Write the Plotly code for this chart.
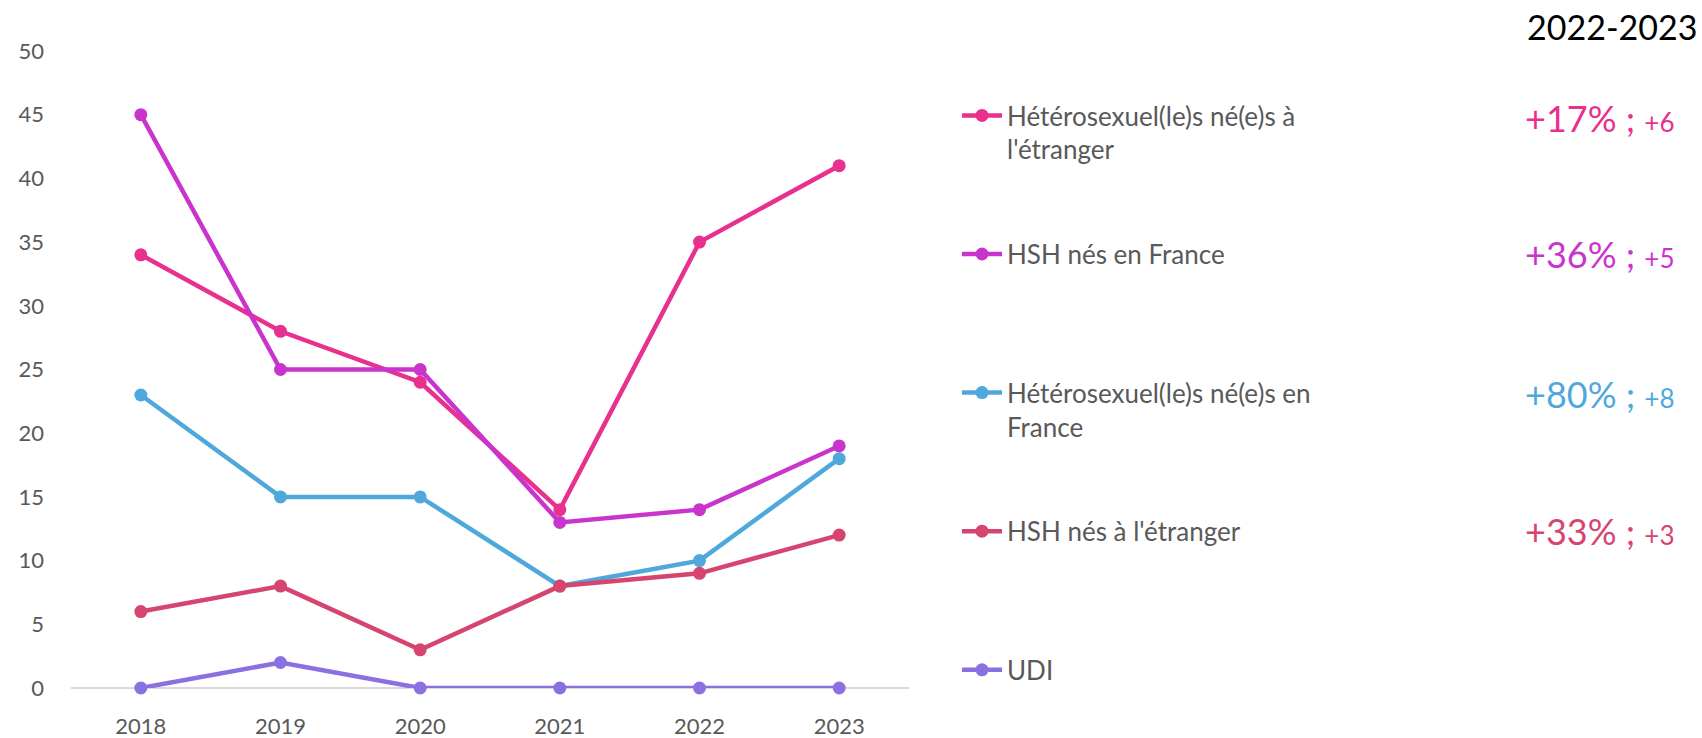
import plotly.graph_objects as go

years = ["2018", "2019", "2020", "2021", "2022", "2023"]
series_names = [
    "Hétérosexuel(le)s né(e)s à<br>l'étranger",
    "HSH nés en France<br>&nbsp;",
    "Hétérosexuel(le)s né(e)s en<br>France",
    "HSH nés à l'étranger<br>&nbsp;",
    "UDI<br>&nbsp;",
]
hetero_etranger = [34, 28, 24, 14, 35, 41]
hsh_france = [45, 25, 25, 13, 14, 19]
hetero_france = [23, 15, 15, 8, 10, 18]
hsh_etranger = [6, 8, 3, 8, 9, 12]
udi = [0, 2, 0, 0, 0, 0]
colors = ["#E8308E", "#C935CC", "#4FA8DC", "#D6456F", "#8A70E0"]
y_ticks = [0, 5, 10, 15, 20, 25, 30, 35, 40, 45, 50]
period_label = "2022-2023"

all_series = [hetero_etranger, hsh_france, hetero_france, hsh_etranger, udi]

FONT = "Lato"
GREY = "#595959"

fig = go.Figure()
for i, (name, vals, col) in enumerate(zip(series_names, all_series, colors)):
    fig.add_trace(go.Scatter(
        x=years, y=vals, name=name, mode="lines+markers",
        line=dict(color=col, width=4.5),
        marker=dict(color=col, size=13),
        legendgroup=f"g{i}", cliponaxis=False,
    ))

# plot area in pixels
W, H = 1702, 738
L, R, T, B = 71, 793, 51, 50
pw = W - L - R
ph = H - T - B

def px_x(px):
    return (px - L) / pw

def px_y(py):
    return (H - B - py) / ph

annotations = []
label_rows = [118, 254, 394, 531]
for vals, col, row in zip(all_series[:4], colors[:4], label_rows):
    a, b = vals[-2], vals[-1]
    pct = round((b - a) / a * 100)
    diff = b - a
    txt = (f"<span style='font-size:36px'>{pct:+d}% ;</span> "
           f"<span style='font-size:26px'>{diff:+d}</span>")
    annotations.append(dict(
        x=px_x(1677), y=px_y(row), xref="paper", yref="paper",
        xanchor="right", yanchor="middle", text=txt, showarrow=False,
        font=dict(family=FONT, color=col, size=36),
    ))
annotations.append(dict(
    x=px_x(1699), y=px_y(26), xref="paper", yref="paper",
    xanchor="right", yanchor="middle", text=period_label, showarrow=False,
    font=dict(family=FONT, color="#000000", size=34),
))

fig.update_layout(
    width=W, height=H,
    margin=dict(l=L, r=R, t=T, b=B, pad=0, autoexpand=False),
    paper_bgcolor="white", plot_bgcolor="white",
    font=dict(family=FONT, color=GREY, size=22),
    showlegend=True,
    legend=dict(
        x=px_x(957), y=px_y(92), xanchor="left", yanchor="top",
        font=dict(family=FONT, size=26, color=GREY),
        valign="top", tracegroupgap=68, bgcolor="rgba(0,0,0,0)",
        itemwidth=40, maxheight=720,
    ),
    annotations=annotations,
    xaxis=dict(
        type="category", range=[-0.5, 5.5], showgrid=False, showline=False,
        zeroline=False, ticks="", tickfont=dict(family=FONT, size=22, color=GREY),
        ticklabelstandoff=23, automargin=False,
    ),
    yaxis=dict(
        range=[0, 50], tickvals=y_ticks, showgrid=False, showline=False,
        zeroline=True, zerolinecolor="#D9D9D9", zerolinewidth=2,
        ticks="", tickfont=dict(family=FONT, size=22, color=GREY),
        ticklabelstandoff=26, automargin=False,
    ),
)

fig.write_html("out.html", config={"displayModeBar": False},
               post_script="document.body.style.margin='0';")
